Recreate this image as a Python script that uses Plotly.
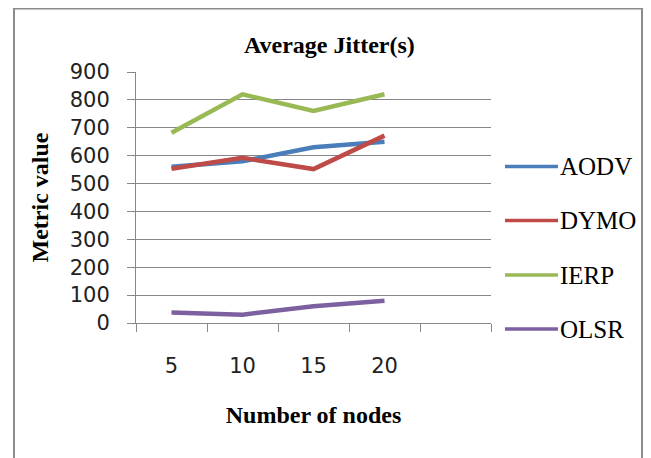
import plotly.graph_objects as go

# ---- data ----
nodes = ["5", "10", "15", "20"]
series_names = ["AODV", "DYMO", "IERP", "OLSR"]
aodv = [560, 580, 630, 650]
dymo = [553, 592, 552, 672]
ierp = [682, 820, 760, 820]
olsr = [38, 30, 60, 80]
y_ticks = [0, 100, 200, 300, 400, 500, 600, 700, 800, 900]

series_values = [aodv, dymo, ierp, olsr]
colors = ["#4a7ebb", "#be4b48", "#98b954", "#7d60a0"]

W, H = 651, 458
OFF = 8  # page body margin
L, R, T, B = 128, 168, 64, 143
PW, PH = W - L - R, H - T - B


def px(xp):
    return (xp - OFF - L) / PW


def py(yp):
    return (H - B - (yp - OFF)) / PH


grid = "#878787"
xpos = list(range(len(nodes)))
tick_font = dict(family="DejaVu Sans", size=21, color="#222222")

fig = go.Figure()
for name, vals, c in zip(series_names, series_values, colors):
    fig.add_trace(go.Scatter(x=xpos, y=vals, mode="lines", name=name,
                             line=dict(color=c, width=4.5),
                             showlegend=False, hoverinfo="skip"))

# custom Excel-like legend
leg_y = [166.5, 220.5, 275, 329]
shapes = []
annotations = []
for name, c, yy in zip(series_names, colors, leg_y):
    shapes.append(dict(type="line", xref="paper", yref="paper",
                       x0=px(505), x1=px(558), y0=py(yy), y1=py(yy),
                       line=dict(color=c, width=3.5)))
    annotations.append(dict(xref="paper", yref="paper", x=px(558), y=py(yy),
                            text=name, showarrow=False, xanchor="left",
                            yanchor="middle",
                            font=dict(family="Liberation Serif", size=25,
                                      color="#000000")))

# outer chart border
shapes.append(dict(type="rect", xref="paper", yref="paper",
                   x0=px(14), x1=px(642), y0=py(475), y1=py(8.5),
                   line=dict(color="#8c8c8c", width=2), layer="below"))

# title
annotations.append(dict(xref="paper", yref="paper", x=px(329), y=py(45),
                        text="<b>Average Jitter(s)</b>", showarrow=False,
                        xanchor="center", yanchor="middle",
                        font=dict(family="Liberation Serif", size=24,
                                  color="#000000")))

fig.update_layout(
    width=W, height=H,
    margin=dict(l=L, r=R, t=T, b=B),
    paper_bgcolor="white", plot_bgcolor="white",
    shapes=shapes, annotations=annotations,
    xaxis=dict(
        range=[-0.5, len(nodes) + 0.5],
        tickmode="array", tickvals=xpos, ticktext=nodes,
        ticks="", showgrid=False, zeroline=False,
        showline=True, linecolor=grid, linewidth=1,
        tickfont=tick_font,
        ticklabelstandoff=24,
        minor=dict(tickmode="array",
                   tickvals=[i - 0.5 for i in range(len(nodes) + 2)],
                   ticks="outside", ticklen=8, tickcolor=grid,
                   tickwidth=1, showgrid=False),
        title=dict(text="<b>Number of nodes</b>", standoff=28,
                   font=dict(family="Liberation Serif", size=24,
                             color="#000000")),
        fixedrange=True,
    ),
    yaxis=dict(
        range=[0, 900],
        tickmode="array", tickvals=y_ticks,
        ticks="outside", ticklen=8, tickcolor=grid, tickwidth=1,
        showgrid=True, gridcolor=grid, gridwidth=1,
        zeroline=False, showline=True, linecolor=grid, linewidth=1,
        tickfont=tick_font,
        ticklabelstandoff=13,
        title=dict(text="<b>Metric value</b>", standoff=14,
                   font=dict(family="Liberation Serif", size=24,
                             color="#000000")),
        fixedrange=True,
    ),
)

fig.write_html("out.html")
